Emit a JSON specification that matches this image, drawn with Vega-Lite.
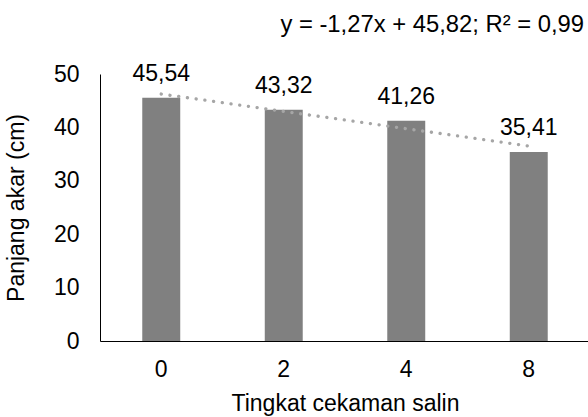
{
  "$schema": "https://vega.github.io/schema/vega-lite/v6.json",
  "autosize": "none",
  "width": 490,
  "height": 267,
  "padding": {"left": 100, "top": 74, "right": 0, "bottom": 76},
  "background": "white",
  "config": {
    "font": "Liberation Sans",
    "view": {"stroke": null},
    "axis": {"labelFont": "Liberation Sans", "titleFont": "Liberation Sans", "labelColor": "#000", "titleColor": "#000", "domainColor": "#000", "grid": false, "ticks": false}
  },
  "title": {
    "text": "y = -1,27x + 45,82; R² = 0,99",
    "anchor": "end",
    "frame": "group",
    "orient": "top",
    "baseline": "alphabetic",
    "offset": 37,
    "dy": 30,
    "dx": -6,
    "fontSize": 23.8,
    "fontWeight": "normal",
    "font": "Liberation Sans",
    "color": "#000"
  },
  "data": {
    "values": [
      {"level": "0", "value": 45.54, "label": "45,54", "trend": 46.25},
      {"level": "2", "value": 43.32, "label": "43,32", "trend": 43.0},
      {"level": "4", "value": 41.26, "label": "41,26", "trend": 39.76},
      {"level": "8", "value": 35.41, "label": "35,41", "trend": 36.51}
    ]
  },
  "encoding": {
    "x": {
      "field": "level",
      "type": "ordinal",
      "sort": null,
      "scale": {"paddingInner": 0.69, "paddingOuter": 0.345},
      "axis": {"title": "Tingkat cekaman salin", "labelAngle": 0, "labelFontSize": 23, "titleFontSize": 23, "titleFontWeight": "normal", "labelPadding": 17, "titlePadding": 11}
    }
  },
  "layer": [
    {
      "mark": {"type": "bar", "color": "#808080"},
      "encoding": {
        "y": {
          "field": "value",
          "type": "quantitative",
          "scale": {"domain": [0, 50], "nice": false},
          "axis": {"title": "Panjang akar (cm)", "values": [0, 10, 20, 30, 40, 50], "labelFontSize": 23, "titleFontSize": 23, "titleFontWeight": "normal", "labelPadding": 21, "titlePadding": 25}
        }
      }
    },
    {
      "mark": {"type": "text", "fontSize": 23, "baseline": "alphabetic", "dy": -17, "color": "#000"},
      "encoding": {
        "y": {"field": "value", "type": "quantitative"},
        "text": {"field": "label"}
      }
    },
    {
      "mark": {"type": "line", "color": "#a6a6a6", "strokeWidth": 3.3, "strokeDash": [0.1, 8.7], "strokeCap": "round"},
      "encoding": {
        "y": {"field": "trend", "type": "quantitative"}
      }
    }
  ]
}
